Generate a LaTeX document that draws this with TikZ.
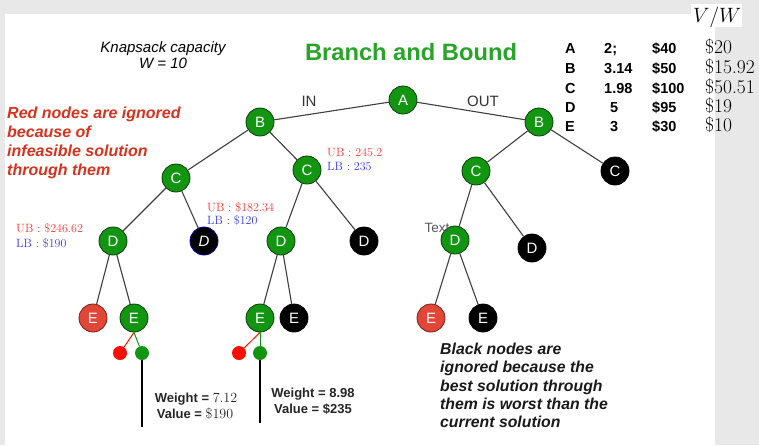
\documentclass[tikz,border=0pt]{standalone}
\usepackage{fontspec}
\newfontfamily\arial{Liberation Sans}
\definecolor{bggray}{RGB}{232,232,232}
\definecolor{ngreen}{RGB}{18,150,18}
\definecolor{nred}{RGB}{225,70,55}
\definecolor{tgreen}{RGB}{40,165,40}
\definecolor{tred}{RGB}{215,50,30}
\definecolor{ubred}{RGB}{255,55,55}
\definecolor{lbblue}{RGB}{55,55,255}
\begin{document}
\begin{tikzpicture}[x=1pt,y=-1pt,
  tnode/.style={circle, minimum size=28pt, inner sep=0pt, line width=0.8pt, text=white,
     font=\arial\fontsize{15}{15}\selectfont},
  gnode/.style={tnode, fill=ngreen, draw=black!60!ngreen},
  bnode/.style={tnode, fill=black, draw=black},
  rnode/.style={tnode, fill=nred, draw=black!50!nred},
  gdot/.style={circle, minimum size=14pt, inner sep=0pt, fill=ngreen},
  rdot/.style={circle, minimum size=14pt, inner sep=0pt, fill=red!90!orange},
  edge/.style={draw=black!75, line width=1.1pt},
  ub/.style={text=ubred, font=\fontsize{12}{12}\selectfont, anchor=base west, inner sep=0pt},
  lb/.style={text=lbblue, font=\fontsize{12}{12}\selectfont, anchor=base west, inner sep=0pt},
  tab/.style={font=\arial\bfseries\fontsize{14.5}{14.5}\selectfont, anchor=base west, inner sep=0pt},
  vw/.style={font=\fontsize{19.5}{19.5}\selectfont, anchor=base west, inner sep=0pt},
  wt/.style={font=\arial\bfseries\fontsize{13}{13}\selectfont, anchor=base, inner sep=0pt, text=black!85}
]
\useasboundingbox (0,0) rectangle (759,445);
\fill[bggray] (0,0) rectangle (759,445);
\fill[white] (5,14) rectangle (715,445);
\fill[white] (691,4) rectangle (742,27);

% nodes
\node[gnode] (A) at (403,100) {A};
\node[gnode] (B1) at (260,122) {B};
\node[gnode] (B2) at (539,122) {B};
\node[gnode] (C1) at (176,178) {C};
\node[gnode] (C2) at (307,170) {C};
\node[gnode] (C3) at (476,171) {C};
\node[bnode] (C4) at (615,171) {C};
\node[gnode] (D1) at (113,241) {D};
\node[bnode, draw=blue!60!black, font=\arial\itshape\fontsize{15}{15}\selectfont] (D2) at (204,241) {D};
\node[gnode] (D3) at (281,241) {D};
\node[bnode] (D4) at (364,241) {D};
\node[gnode] (D5) at (455,240) {D};
\node[bnode] (D6) at (532,248) {D};
\node[rnode] (E1) at (93,318) {E};
\node[gnode] (E2) at (134,318) {E};
\node[gnode] (E3) at (260,318) {E};
\node[bnode] (E4) at (294,318) {E};
\node[rnode] (E5) at (431,318) {E};
\node[bnode] (E6) at (483,318) {E};
\node[rdot] (r1) at (120,353) {};
\node[gdot] (g1) at (142,353) {};
\node[rdot] (r2) at (239,353) {};
\node[gdot] (g2) at (260,353) {};
\coordinate (g1e) at (142,427);
\coordinate (g2e) at (260,423);

% edges
\path[edge] (A) -- (B1);
\path[edge] (A) -- (B2);
\path[edge] (B1) -- (C1);
\path[edge] (B1) -- (C2);
\path[edge] (B2) -- (C3);
\path[edge] (B2) -- (C4);
\path[edge] (C1) -- (D1);
\path[edge] (C1) -- (D2);
\path[edge] (C2) -- (D3);
\path[edge] (C2) -- (D4);
\path[edge] (C3) -- (D5);
\path[edge] (C3) -- (D6);
\path[edge] (D1) -- (E1);
\path[edge] (D1) -- (E2);
\path[edge] (D3) -- (E3);
\path[edge] (D3) -- (E4);
\path[edge] (D5) -- (E5);
\path[edge] (D5) -- (E6);
\draw[red!80!orange, line width=1pt] (E2.south) -- (r1);
\draw[ngreen, line width=1pt] (E2.south) -- (g1);
\draw[red!80!orange, line width=1pt] (E3.south) -- (r2);
\draw[ngreen, line width=1pt] (E3.south) -- (g2);
\draw[black, line width=1.1pt] (g1) -- (g1e);
\draw[black, line width=1.1pt] (g2) -- (g2e);

% edge labels
\node[font=\arial\fontsize{15}{15}\selectfont, text=black!80, anchor=base, inner sep=0pt] (lin) at (309,106) {IN};
\node[font=\arial\fontsize{15}{15}\selectfont, text=black!80, anchor=base, inner sep=0pt] (lout) at (483,106) {OUT};
\node[font=\arial\fontsize{13.5}{13.5}\selectfont, text=black!65, anchor=base, inner sep=0pt] (ltext) at (437,232) {Text};

% titles
\node[font=\arial\itshape\fontsize{15}{16}\selectfont, anchor=base, inner sep=0pt] (cap1) at (163,52) {Knapsack capacity};
\node[font=\arial\itshape\fontsize{15}{16}\selectfont, anchor=base, inner sep=0pt] (cap2) at (163,68) {W = 10};
\node[font=\arial\bfseries\fontsize{23.7}{23.7}\selectfont, text=tgreen, anchor=base, inner sep=0pt] (title) at (411,60) {Branch and Bound};

\node[font=\arial\bfseries\itshape\fontsize{16}{19}\selectfont, text=tred, align=left, anchor=north west, inner sep=0pt] (rednote) at (7,107)
  {Red nodes are ignored\\because of\\infeasible solution\\through them};
\node[font=\arial\bfseries\itshape\fontsize{15.8}{18.3}\selectfont, text=black!90, align=left, anchor=north west, inner sep=0pt] (blacknote) at (440,343)
  {Black nodes are\\ignored because the\\best solution through\\them is worst than the\\current solution};

% UB / LB
\node[ub] (ub1) at (327,156) {UB : 245.2};
\node[lb] (lb1) at (327,170) {LB : 235};
\node[ub] (ub2) at (207,211) {UB : \$182.34};
\node[lb] (lb2) at (207,224) {LB : \$120};
\node[ub] (ub3) at (16,232) {UB : \$246.62};
\node[lb] (lb3) at (16,247) {LB : \$190};

% weight/value
\node[wt] (w1) at (196,402) {Weight = {\normalfont\fontsize{14}{14}\selectfont 7.12}};
\node[wt] (v1) at (195,418) {Value = {\normalfont\fontsize{14}{14}\selectfont \$190}};
\node[wt] (w2) at (313,397) {Weight = 8.98};
\node[wt] (v2) at (313,413) {Value = \$235};

% table
\node[vw] (vwh) at (693,22) {$V/W$};
\foreach \y/\l/\n/\nx/\d/\r in {53/A/2;/604/\$40/\$20, 73/B/3.14/604/\$50/\$15.92, 93/C/1.98/604/\$100/\$50.51, 112/D/5/610/\$95/\$19, 131/E/3/610/\$30/\$10}{
  \node[tab] at (565,\y) {\l};
  \node[tab] at (\nx,\y) {\n};
  \node[tab] at (652,\y) {\d};
  \node[vw] at (705,\y) {\r};
}
\end{tikzpicture}
\end{document}
